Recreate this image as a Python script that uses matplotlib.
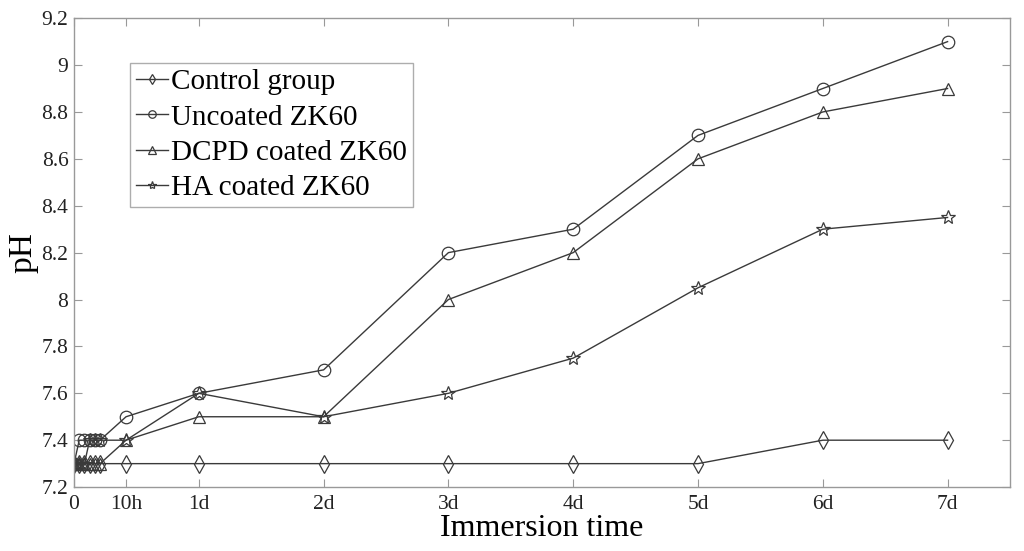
import matplotlib
matplotlib.use("Agg")
import matplotlib.pyplot as plt

plt.rcParams['font.family'] = ['Liberation Serif', 'DejaVu Serif']

# time in hours
time_h = [0, 1, 2, 3, 4, 5, 10, 24, 48, 72, 96, 120, 144, 168]
control = [7.3, 7.3, 7.3, 7.3, 7.3, 7.3, 7.3, 7.3, 7.3, 7.3, 7.3, 7.3, 7.4, 7.4]
uncoated = [7.3, 7.4, 7.4, 7.4, 7.4, 7.4, 7.5, 7.6, 7.7, 8.2, 8.3, 8.7, 8.9, 9.1]
dcpd = [7.3, 7.3, 7.3, 7.3, 7.3, 7.3, 7.4, 7.5, 7.5, 8.0, 8.2, 8.6, 8.8, 8.9]
ha = [7.3, 7.3, 7.3, 7.4, 7.4, 7.4, 7.4, 7.6, 7.5, 7.6, 7.75, 8.05, 8.3, 8.35]

xtick_pos = [0, 10, 24, 48, 72, 96, 120, 144, 168]
xtick_labels = ['0', '10h', '1d', '2d', '3d', '4d', '5d', '6d', '7d']
ytick_pos = [7.2, 7.4, 7.6, 7.8, 8.0, 8.2, 8.4, 8.6, 8.8, 9.0, 9.2]
ytick_labels = ['7.2', '7.4', '7.6', '7.8', '8', '8.2', '8.4', '8.6', '8.8', '9', '9.2']

fig = plt.figure(figsize=(10.24, 5.51), dpi=100)
ax = fig.add_axes([0.0723, 0.116, 0.914, 0.851])

lc = '#3a3a3a'
kw = dict(color=lc, lw=1.0, markerfacecolor='none', markeredgecolor=lc, markeredgewidth=0.9)
ax.plot(time_h, control, marker='d', markersize=9, label='Control group', **kw)
ax.plot(time_h, uncoated, marker='o', markersize=9, label='Uncoated ZK60', **kw)
ax.plot(time_h, dcpd, marker='^', markersize=9, label='DCPD coated ZK60', **kw)
ax.plot(time_h, ha, marker='*', markersize=10, label='HA coated ZK60', **kw)

ax.set_xlim(0, 180)
ax.set_ylim(7.2, 9.2)
ax.set_xticks(xtick_pos)
ax.set_xticklabels(xtick_labels)
ax.set_yticks(ytick_pos)
ax.set_yticklabels(ytick_labels)
ax.tick_params(direction='in', length=6, width=0.8, color='#999999', labelsize=15.5,
               top=True, right=True, labelcolor='#222222')
ax.tick_params(axis='x', pad=6)
ax.tick_params(axis='y', pad=4)
for s in ax.spines.values():
    s.set_color('#999999')
    s.set_linewidth(1.0)

ax.set_xlabel('Immersion time', fontsize=23, labelpad=0)
ax.set_ylabel('pH', fontsize=24, labelpad=2)

leg = ax.legend(loc='upper left', bbox_to_anchor=(0.0598, 0.904), fontsize=21,
                frameon=True, fancybox=False, edgecolor='#999999', handlelength=1.1,
                handletextpad=0.1, borderpad=0.2, labelspacing=0.3, markerscale=0.6,
                borderaxespad=0)
leg.get_frame().set_linewidth(1.0)

fig.savefig('out.png', dpi=100)
